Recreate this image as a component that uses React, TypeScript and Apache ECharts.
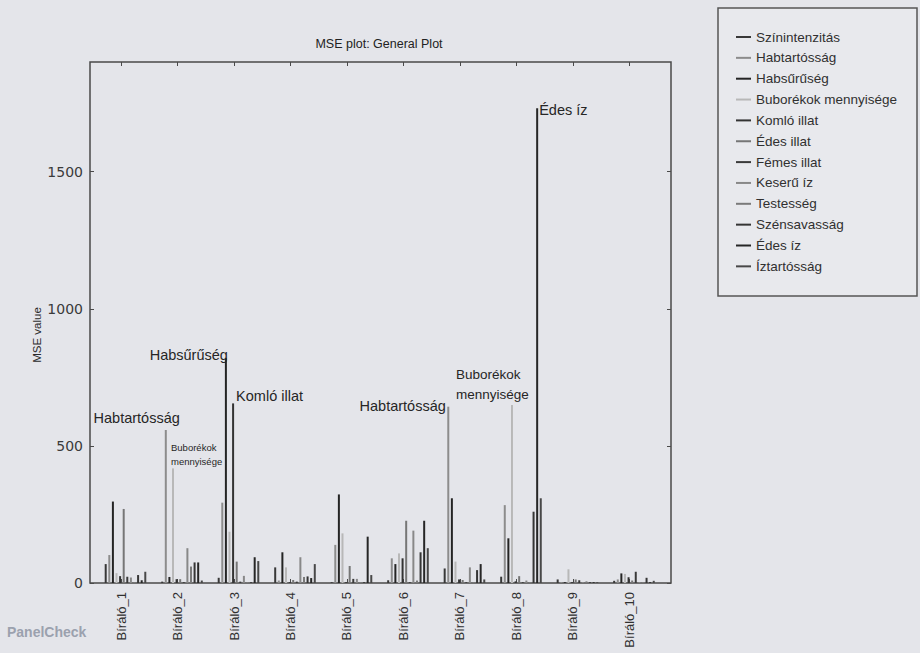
import { useEffect, useRef } from "react";
import * as echarts from "echarts";

const ASSESSORS = [
  "Bíráló_1", "Bíráló_2", "Bíráló_3", "Bíráló_4", "Bíráló_5",
  "Bíráló_6", "Bíráló_7", "Bíráló_8", "Bíráló_9", "Bíráló_10",
];

const ATTRIBUTES = [
  "Színintenzitás", "Habtartósság", "Habsűrűség", "Buborékok mennyisége",
  "Komló illat", "Édes illat", "Fémes illat", "Keserű íz",
  "Testesség", "Szénsavasság", "Édes íz", "Íztartósság",
];

// MSE per assessor (Bíráló_1 .. Bíráló_10) for each attribute
const szinintenzitas = [69, 5, 19, 57, 3, 10, 53, 23, 13, 8];
const habtartossag = [102, 558, 293, 9, 139, 90, 643, 284, 3, 13];
const habsuruseg = [297, 22, 820, 112, 323, 69, 309, 163, 3, 35];
const buborekok = [36, 418, 187, 57, 181, 108, 78, 649, 50, 33];
const komloIllat = [25, 14, 655, 3, 3, 90, 13, 6, 3, 21];
const edesIllat = [270, 14, 78, 11, 62, 227, 11, 25, 13, 9];
const femesIllat = [23, 3, 5, 5, 15, 3, 3, 3, 10, 41];
const keseruIz = [20, 127, 26, 94, 15, 191, 57, 9, 3, 3];
const testesseg = [3, 60, 3, 22, 3, 9, 3, 3, 6, 3];
const szensavassag = [29, 75, 3, 24, 3, 112, 47, 260, 3, 19];
const edesIz = [10, 75, 94, 18, 169, 227, 69, 1731, 3, 3];
const iztartossag = [41, 9, 80, 69, 29, 127, 13, 309, 3, 8];

const MSE_VALUES = [
  szinintenzitas, habtartossag, habsuruseg, buborekok, komloIllat, edesIllat,
  femesIllat, keseruIz, testesseg, szensavassag, edesIz, iztartossag,
];

const Y_TICKS = [0, 500, 1000, 1500];

// grey shades of the printed line colours, one per attribute
const COLORS = [
  "#383838", "#8c8c8c", "#242424", "#b8b8b8", "#333333", "#767676",
  "#3a3a3a", "#888888", "#7a7a7a", "#353535", "#262626", "#484848",
];

// bars that carry their attribute name as a callout
const CALLOUTS = [
  { assessor: 1, attribute: 1, text: "Habtartósság", position: [15, -12], align: "right", size: 14.5 },
  { assessor: 1, attribute: 3, text: "Buborékok\nmennyisége", position: [-1, -14], align: "left", size: 9.5, lineHeight: 13.4 },
  { assessor: 2, attribute: 2, text: "Habsűrűség", position: [3, -3], align: "right", size: 14.5 },
  { assessor: 2, attribute: 4, text: "Komló illat", position: [4, -7], align: "left", size: 14.5 },
  { assessor: 6, attribute: 1, text: "Habtartósság", position: [-1.5, -1], align: "right", size: 14.5 },
  { assessor: 7, attribute: 3, text: "Buborékok\nmennyisége", position: [-55, -21], align: "left", size: 13.5, lineHeight: 20 },
  { assessor: 7, attribute: 10, text: "Édes íz", position: [3, 2], align: "left", size: 14.5 },
];

// horizontal layout, in units of one assessor spacing
const X_MIN = -0.549;
const X_MAX = 9.735;
const GROUP_OFFSET = -0.271;
const BAR_STEP = 0.0637;

const FONT = "'Liberation Sans', Arial, Helvetica, sans-serif";
const BG = "#e4e5ea";
const FRAME = "#4a4a4a";

export default function App() {
  const ref = useRef<HTMLDivElement>(null);

  useEffect(() => {
    if (!ref.current) return;
    const chart = echarts.init(ref.current, null, { renderer: "svg" });

    const series = ATTRIBUTES.map((name, j) => ({
      type: "bar",
      name,
      barWidth: 2,
      barGap: "-100%",
      itemStyle: { color: COLORS[j] },
      z: 2,
      data: MSE_VALUES[j].map((v, i) => {
        const item: any = { value: [i + GROUP_OFFSET + BAR_STEP * j, v] };
        const c = CALLOUTS.find((k) => k.assessor === i && k.attribute === j);
        if (c) {
          item.label = {
            show: true,
            formatter: c.text,
            position: c.position,
            align: c.align,
            verticalAlign: "middle",
            fontSize: c.size,
            lineHeight: c.lineHeight,
            fontFamily: FONT,
            color: "#262626",
          };
        }
        return item;
      }),
    }));

    const xTicks = ASSESSORS.map((_, i) => i);
    const tick = (values: number[]) => ({
      inside: true, length: 4, customValues: values, lineStyle: { color: FRAME },
    });

    chart.setOption({
      animation: false,
      backgroundColor: BG,
      grid: {
        left: 90, top: 62, width: 581, height: 521,
        show: true, borderColor: FRAME, borderWidth: 1.5,
        backgroundColor: "transparent",
      },
      xAxis: [
        {
          type: "value", min: X_MIN, max: X_MAX, position: "bottom",
          axisLine: { show: false, onZero: false },
          splitLine: { show: false },
          axisTick: tick(xTicks),
          axisLabel: {
            customValues: xTicks,
            formatter: (v: number) => ASSESSORS[Math.round(v)] ?? "",
            rotate: 90, fontSize: 13, color: "#303030", margin: 9, fontFamily: FONT,
          },
        },
        {
          type: "value", min: X_MIN, max: X_MAX, position: "top",
          axisLine: { show: false, onZero: false },
          splitLine: { show: false },
          axisTick: tick(xTicks),
          axisLabel: { show: false },
        },
      ],
      yAxis: [
        {
          type: "value", min: 0, max: 1900, position: "left",
          axisLine: { show: false, onZero: false },
          splitLine: { show: false },
          axisTick: tick(Y_TICKS),
          axisLabel: {
            customValues: Y_TICKS,
            formatter: (v: number) => String(v),
            fontSize: 14, color: "#3a3a3a", margin: 7,
            fontFamily: "'DejaVu Sans', sans-serif",
          },
        },
        {
          type: "value", min: 0, max: 1900, position: "right",
          axisLine: { show: false, onZero: false },
          splitLine: { show: false },
          axisTick: tick(Y_TICKS),
          axisLabel: { show: false },
        },
      ],
      legend: {
        orient: "vertical",
        left: 736, top: 29,
        padding: 0,
        icon: "rect",
        itemWidth: 15, itemHeight: 2, itemGap: 4.85, itemTextGap: 13,
        textStyle: { fontSize: 13.5, lineHeight: 16, color: "#303030", fontFamily: FONT },
        data: ATTRIBUTES,
        selectedMode: false,
      },
      graphic: [
        {
          type: "rect", z: -1, silent: true,
          shape: { x: 718, y: 8, width: 199, height: 288 },
          style: { fill: "#e8e9ed", stroke: "#555555", lineWidth: 1.5 },
        },
        {
          type: "text", silent: true, x: 379, y: 44,
          style: {
            text: "MSE plot: General Plot", fontSize: 12.5, fontFamily: FONT,
            fill: "#222222", align: "center", verticalAlign: "middle",
          },
        },
        {
          type: "text", silent: true, x: 37, y: 335, rotation: Math.PI / 2,
          style: {
            text: "MSE value", fontSize: 11.5, fontFamily: FONT,
            fill: "#2a2a2a", align: "center", verticalAlign: "middle",
          },
        },
        {
          type: "text", silent: true, x: 7, y: 632,
          style: {
            text: "PanelCheck", fontSize: 14, fontWeight: "bold", fontFamily: FONT,
            fill: "#9ba1ae", align: "left", verticalAlign: "middle",
          },
        },
      ],
      series,
    });

    return () => chart.dispose();
  }, []);

  return (
    <div
      ref={ref}
      style={{ position: "fixed", left: 0, top: 0, width: 920, height: 653, background: BG }}
    />
  );
}
